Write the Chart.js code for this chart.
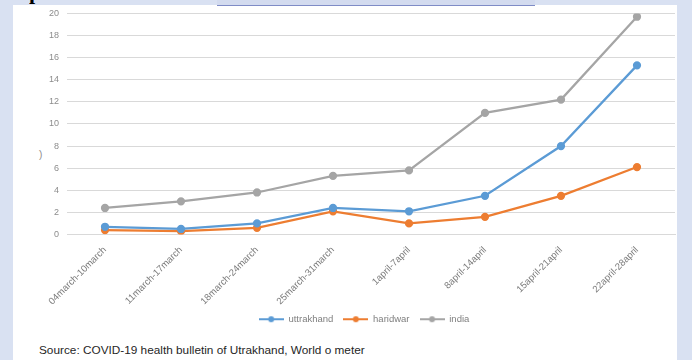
<!DOCTYPE html>
<html>
<head>
<meta charset="utf-8">
<script src="https://cdn.jsdelivr.net/npm/chart.js@4.4.1/dist/chart.umd.min.js"></script>
<style>
  html, body { margin: 0; padding: 0; }
  body { width: 692px; height: 360px; background: #d9e1f2; position: relative; overflow: hidden; font-family: "Liberation Sans", Arial, sans-serif; }
  #panel { position: absolute; left: 13px; top: 5px; width: 664px; height: 355px; background: #fff; }
  #topbox { position: absolute; left: 217px; top: 0; width: 318px; height: 5px; background: #d3dbef; border-bottom: 1.5px solid #7f8cc6; }
  #pclip { position: absolute; left: 29px; top: 0; width: 20px; height: 5px; overflow: hidden; }
  #pclip span { position: absolute; left: 0; top: -20px; font: bold 22px "Liberation Serif", serif; color: #000; line-height: 24px; }
  #paren { position: absolute; left: 39px; top: 149px; font-size: 10px; color: #8c8c8c; }
  #chart { position: absolute; left: 0; top: 0; }
  #source { position: absolute; left: 39px; top: 343px; font-size: 11.8px; color: #262626; white-space: nowrap; }
</style>
</head>
<body>
<div id="panel"></div>
<div id="topbox"></div>
<div id="pclip"><span>p</span></div>
<div id="paren">)</div>
<canvas id="chart" width="692" height="334"></canvas>
<div id="source">Source: COVID-19 health bulletin of Utrakhand, World o meter</div>
<script>
// 数据
const weeks = ['04march-10march', '11march-17march', '18march-24march', '25march-31march',
  '1april-7april', '8april-14april', '15april-21april', '22april-28april'];
const uttrakhand = [0.7, 0.5, 1.0, 2.4, 2.1, 3.5, 8.0, 15.3];
const haridwar = [0.4, 0.3, 0.6, 2.1, 1.0, 1.6, 3.5, 6.1];
const india = [2.4, 3.0, 3.8, 5.3, 5.8, 11.0, 12.2, 19.7];
const yTicks = [0, 2, 4, 6, 8, 10, 12, 14, 16, 18, 20];

const colors = { uttrakhand: '#5b9bd5', haridwar: '#ed7d31', india: '#a5a5a5' };

// 图例标记：线 + 圆点
function legendMarker(color) {
  const c = document.createElement('canvas');
  c.width = 25; c.height = 8;
  const g = c.getContext('2d');
  g.strokeStyle = color; g.lineWidth = 2;
  g.beginPath(); g.moveTo(0, 4); g.lineTo(25, 4); g.stroke();
  g.fillStyle = color;
  g.beginPath(); g.arc(12.5, 4, 3, 0, Math.PI * 2); g.fill();
  return c;
}

function series(label, data, color) {
  return {
    label, data,
    borderColor: color, backgroundColor: color,
    pointBackgroundColor: color, pointBorderColor: color,
    borderWidth: 2.25, pointRadius: 3, tension: 0, fill: false
  };
}

// 图例水平位置微调
const legendShift = {
  id: 'legendShift',
  afterLayout(chart) {
    const l = chart.legend;
    l.left += 8; l.right += 8;
  }
};

new Chart(document.getElementById('chart'), {
  type: 'line',
  data: {
    labels: weeks,
    datasets: [
      series('uttrakhand', uttrakhand, colors.uttrakhand),
      series('haridwar', haridwar, colors.haridwar),
      series('india', india, colors.india)
    ]
  },
  plugins: [legendShift],
  options: {
    responsive: false,
    animation: false,
    devicePixelRatio: 1,
    layout: { padding: { left: 37, right: 17, top: 12, bottom: 0 } },
    scales: {
      x: {
        offset: true,
        grid: { display: false },
        border: { color: '#d9d9d9' },
        ticks: { autoSkip: false, minRotation: 45, maxRotation: 45, padding: 2, color: '#7a7a7a', font: { size: 9.5, family: 'Liberation Sans' } },
        afterFit: s => { s.height = 70; }
      },
      y: {
        min: 0, max: 20,
        afterBuildTicks: s => { s.ticks = yTicks.map(v => ({ value: v })); },
        grid: { color: '#d9d9d9', drawTicks: false },
        border: { display: false },
        ticks: { padding: 8, color: '#8c8c8c', font: { size: 9, family: 'Liberation Sans' } },
        afterFit: s => { s.width = 30; }
      }
    },
    plugins: {
      tooltip: { enabled: false },
      legend: {
        position: 'bottom',
        labels: {
          usePointStyle: true,
          pointStyleWidth: 25,
          padding: 10,
          color: '#7f7f7f',
          font: { size: 9.5, family: 'Liberation Sans' },
          generateLabels: chart => Chart.defaults.plugins.legend.labels.generateLabels(chart)
            .map(it => Object.assign(it, { pointStyle: legendMarker(chart.data.datasets[it.datasetIndex].borderColor) }))
        }
      }
    }
  }
});
</script>
</body>
</html>
